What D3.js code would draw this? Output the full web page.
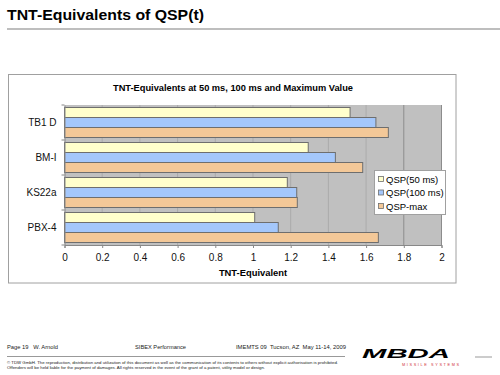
<!DOCTYPE html>
<html>
<head>
<meta charset="utf-8">
<script src="https://cdn.jsdelivr.net/npm/d3@7"></script>
<style>
  body { margin: 0; background: #fff; }
  text { font-family: "Liberation Sans", Arial, sans-serif; }
</style>
</head>
<body>
<div id="slide"></div>
<script>
// ---------------- data ----------------
const categories = ["TB1 D", "BM-I", "KS22a", "PBX-4"];
const seriesNames = ["QSP(50 ms)", "QSP(100 ms)", "QSP-max"];
const qsp50 = [1.515, 1.293, 1.182, 1.009];
const qsp100 = [1.652, 1.437, 1.232, 1.134];
const qspMax = [1.718, 1.582, 1.235, 1.665];
const xTicks = [0, 0.2, 0.4, 0.6, 0.8, 1, 1.2, 1.4, 1.6, 1.8, 2];

const seriesValues = [qsp50, qsp100, qspMax];
const seriesColors = ["#ffffcc", "#a4c7fb", "#f3c898"];

// ---------------- layout ----------------
const WIDTH = 500, HEIGHT = 375;
const PLOT_LEFT = 64.5, PLOT_RIGHT = 441.5, PLOT_TOP = 105, PLOT_BOTTOM = 245;

const svg = d3.select("#slide").append("svg")
    .attr("width", WIDTH)
    .attr("height", HEIGHT);

// slide title
svg.append("text")
    .text("TNT-Equivalents of QSP(t)")
    .attr("x", 7).attr("y", 20)
    .attr("font-size", "15.5px").attr("font-weight", "bold")
    .attr("textLength", 197).attr("lengthAdjust", "spacingAndGlyphs");

svg.append("line")
    .attr("x1", 7).attr("x2", 500).attr("y1", 29).attr("y2", 29)
    .attr("stroke", "#a8a8a8").attr("stroke-width", 1.5);

// chart frame
svg.append("rect")
    .attr("x", 8.5).attr("y", 74.5).attr("width", 447.5).attr("height", 208.5)
    .attr("fill", "#fff").attr("stroke", "#a0a0a0");

svg.append("text")
    .text("TNT-Equivalents at 50 ms, 100 ms and Maximum Value")
    .attr("x", 113).attr("y", 90.5)
    .attr("font-size", "9.3px").attr("font-weight", "bold")
    .attr("textLength", 240).attr("lengthAdjust", "spacingAndGlyphs");

// scales
const scaleX = d3.scaleLinear().domain([0, 2]).range([PLOT_LEFT, PLOT_RIGHT]);
const scaleY = d3.scaleBand().domain(categories).range([PLOT_TOP, PLOT_BOTTOM]).paddingInner(0).paddingOuter(0);
const scaleSeries = d3.scaleBand().domain(seriesNames)
    .range([0, scaleY.bandwidth()]).paddingOuter(0.25).paddingInner(0);

// plot background
svg.append("rect")
    .attr("x", PLOT_LEFT).attr("y", PLOT_TOP)
    .attr("width", PLOT_RIGHT - PLOT_LEFT).attr("height", PLOT_BOTTOM - PLOT_TOP)
    .attr("fill", "#c0c0c0");

// gridlines
svg.append("g").selectAll("line")
    .data(xTicks.slice(1))
    .join("line")
    .attr("x1", d => scaleX(d)).attr("x2", d => scaleX(d))
    .attr("y1", PLOT_TOP).attr("y2", PLOT_BOTTOM)
    .attr("stroke", d => d === 1.8 || d === 2 ? "#8c8c8c" : "#ababab")
    .attr("stroke-width", 1);

// bars
const rows = categories.map((c, i) => ({cat: c, vals: seriesValues.map(s => s[i])}));
const groups = svg.append("g").selectAll("g")
    .data(rows)
    .join("g")
    .attr("transform", d => `translate(0, ${scaleY(d.cat)})`);

groups.selectAll("rect")
    .data(d => d.vals.map((v, j) => ({name: seriesNames[j], v: v, j: j})))
    .join("rect")
    .attr("x", scaleX(0))
    .attr("y", d => scaleSeries(d.name))
    .attr("width", d => scaleX(d.v) - scaleX(0))
    .attr("height", scaleSeries.bandwidth())
    .attr("fill", d => seriesColors[d.j])
    .attr("stroke", "#6e6e6e")
    .attr("stroke-width", 1);

// axes
const xAxis = svg.append("g")
    .attr("transform", `translate(0, ${PLOT_BOTTOM})`)
    .call(d3.axisBottom(scaleX).tickValues(xTicks).tickFormat(d3.format("~g")).tickSize(3).tickPadding(6));
xAxis.select(".domain").attr("stroke", "#888");
xAxis.selectAll(".tick line").attr("stroke", "#888");
xAxis.selectAll("text").attr("font-size", "10px").attr("font-family", "Liberation Sans, Arial, sans-serif").attr("fill", "#111");

const yAxis = svg.append("g")
    .attr("transform", `translate(${PLOT_LEFT}, 0)`)
    .call(d3.axisLeft(scaleY).tickSize(0).tickPadding(8));
yAxis.select(".domain").attr("stroke", "#888");
yAxis.selectAll("text").attr("font-size", "10px").attr("font-family", "Liberation Sans, Arial, sans-serif").attr("fill", "#111");

// category boundary ticks
svg.append("g").selectAll("line")
    .data(categories.concat(["end"]))
    .join("line")
    .attr("x1", PLOT_LEFT - 3).attr("x2", PLOT_LEFT)
    .attr("y1", d => d === "end" ? PLOT_BOTTOM : scaleY(d))
    .attr("y2", d => d === "end" ? PLOT_BOTTOM : scaleY(d))
    .attr("stroke", "#888");

svg.append("text")
    .text("TNT-Equivalent")
    .attr("x", scaleX(1)).attr("y", 276)
    .attr("text-anchor", "middle")
    .attr("font-size", "9.4px").attr("font-weight", "bold");

// legend
const legend = svg.append("g").attr("transform", "translate(374.5, 170.5)");
legend.append("rect")
    .attr("width", 71).attr("height", 44)
    .attr("fill", "#fff").attr("stroke", "#a0a0a0");
const items = legend.selectAll("g")
    .data(seriesNames)
    .join("g")
    .attr("transform", (d, i) => `translate(4, ${9 + i * 13.5})`);
items.append("rect")
    .attr("x", 0).attr("y", -3).attr("width", 5).attr("height", 5)
    .attr("fill", (d, i) => seriesColors[i])
    .attr("stroke", "#6e6e6e").attr("stroke-width", 0.8);
items.append("text")
    .text(d => d)
    .attr("x", 7.5).attr("y", 3.3)
    .attr("font-size", "9.5px");

// footer
const footer = svg.append("g").attr("fill", "#222");
footer.append("text").text("Page 19   W. Arnold").attr("x", 7).attr("y", 349).attr("font-size", "6px")
    .attr("xml:space", "preserve").attr("textLength", 51).attr("lengthAdjust", "spacingAndGlyphs");
footer.append("text").text("SIBEX Performance").attr("x", 135).attr("y", 349).attr("font-size", "6px")
    .attr("textLength", 51).attr("lengthAdjust", "spacingAndGlyphs");
footer.append("text").text("IMEMTS 09  Tucson, AZ  May 11-14, 2009").attr("x", 236).attr("y", 349).attr("font-size", "6px")
    .attr("xml:space", "preserve").attr("textLength", 110).attr("lengthAdjust", "spacingAndGlyphs");
svg.append("line")
    .attr("x1", 7).attr("x2", 345).attr("y1", 356.5).attr("y2", 356.5)
    .attr("stroke", "#999").attr("stroke-width", 1);
svg.append("line")
    .attr("x1", 475).attr("x2", 492).attr("y1", 357).attr("y2", 357)
    .attr("stroke", "#999").attr("stroke-width", 1);
footer.append("text")
    .text("© TDW GmbH. The reproduction, distribution and utilization of this document as well as the communication of its contents to others without explicit authorisation is prohibited.")
    .attr("x", 7).attr("y", 364).attr("font-size", "3.8px")
    .attr("textLength", 331).attr("lengthAdjust", "spacingAndGlyphs");
footer.append("text")
    .text("Offenders will be held liable for the payment of damages. All rights reserved in the event of the grant of a patent, utility model or design.")
    .attr("x", 7).attr("y", 369).attr("font-size", "3.8px")
    .attr("textLength", 258).attr("lengthAdjust", "spacingAndGlyphs");

// logo
svg.append("text")
    .text("MBDA")
    .attr("x", 362).attr("y", 358)
    .attr("font-size", "12.5px").attr("font-weight", "900").attr("font-style", "italic")
    .attr("textLength", 88).attr("lengthAdjust", "spacingAndGlyphs")
    .attr("fill", "#000");
svg.append("text")
    .text("MISSILE SYSTEMS")
    .attr("x", 402).attr("y", 366)
    .attr("font-size", "3.8px").attr("fill", "#d0303a")
    .attr("textLength", 57).attr("lengthAdjust", "spacing");
</script>
</body>
</html>
